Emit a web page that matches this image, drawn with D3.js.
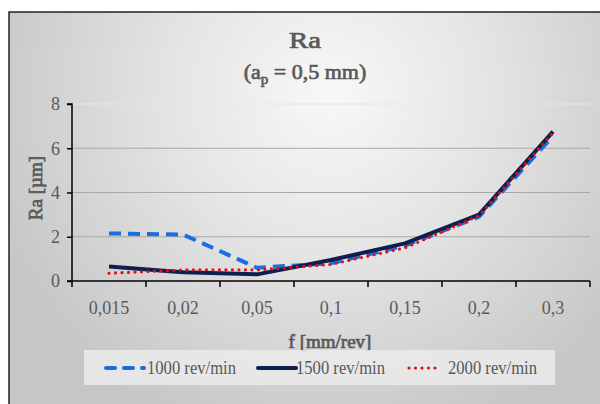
<!DOCTYPE html>
<html>
<head>
<meta charset="utf-8">
<script src="https://cdn.jsdelivr.net/npm/d3@7"></script>
<style>
  html, body { margin: 0; padding: 0; background: #fff; }
  svg { display: block; }
</style>
</head>
<body>
<svg width="600" height="404"></svg>
<script>
// Chart data.
var feeds = ["0,015", "0,02", "0,05", "0,1", "0,15", "0,2", "0,3"];
var ra1000 = [2.15, 2.1, 0.6, 0.8, 1.6, 2.9, 6.55];
var ra1500 = [0.65, 0.4, 0.3, 0.95, 1.7, 3.0, 6.75];
var ra2000 = [0.35, 0.5, 0.5, 0.75, 1.5, 2.95, 6.7];
var yTicks = [0, 2, 4, 6, 8];
var seriesNames = ["1000 rev/min", "1500 rev/min", "2000 rev/min"];

var FONT = "'Liberation Serif', 'Times New Roman', Tinos, 'DejaVu Serif', serif";
var GREY = "#595959";

var svg = d3.select("svg")
    .style("font-family", FONT);

// bold look made with a thin stroke on the regular serif face
function boldText(sel, size) {
    return sel.attr("fill", GREY)
        .attr("stroke", GREY)
        .attr("stroke-width", 0.7)
        .style("font-family", FONT)
        .style("font-size", size);
}

// Background gradient and frame.
var defs = svg.append("defs");
var grad = defs.append("radialGradient")
    .attr("id", "bg")
    .attr("gradientUnits", "userSpaceOnUse")
    .attr("cx", 330).attr("cy", 95).attr("r", 360);
grad.append("stop").attr("offset", "0%").attr("stop-color", "#f8f8f8");
grad.append("stop").attr("offset", "45%").attr("stop-color", "#e4e4e4");
grad.append("stop").attr("offset", "100%").attr("stop-color", "#c6c6c6");

svg.append("rect")
    .attr("x", 9).attr("y", 12)
    .attr("width", 600).attr("height", 400)
    .attr("fill", "url(#bg)")
    .attr("stroke", "#222")
    .attr("stroke-width", 1.5);

// Scales.
var x = d3.scaleBand().domain(feeds).range([72, 590]);
var y = d3.scaleLinear().domain([0, 8]).range([281, 104]);
var cx = function (d, i) { return x(feeds[i]) + x.bandwidth() / 2; };

// Gridlines.
svg.append("g")
    .selectAll("line")
    .data(yTicks.filter(function (d) { return d > 0; }))
    .enter().append("line")
    .attr("x1", 72).attr("x2", 590)
    .attr("y1", function (d) { return y(d); })
    .attr("y2", function (d) { return y(d); })
    .attr("stroke", function (d) { return d === 8 ? "#e6e6e6" : "#a8a8a8"; })
    .attr("stroke-width", 1);

// Axes.
var yAxis = svg.append("g")
    .attr("transform", "translate(72,0)")
    .call(d3.axisLeft(y).tickValues(yTicks).tickSize(5).tickPadding(7));
var xAxis = svg.append("g")
    .attr("transform", "translate(0,281)")
    .call(d3.axisBottom(x).tickSize(0).tickPadding(20));

[yAxis, xAxis].forEach(function (g) {
    g.attr("font-family", null).attr("font-size", null);
    g.select(".domain").attr("stroke", "#000").attr("stroke-width", 1.5);
    g.selectAll(".tick line").attr("stroke", "#000").attr("stroke-width", 1.5);
    g.selectAll("text")
        .style("font-family", FONT)
        .style("font-size", "18px")
        .attr("fill", GREY);
});
yAxis.select(".domain").attr("d", "M-5,104H0V281H-5");

// X ticks at category boundaries.
xAxis.selectAll(".bound")
    .data(feeds.concat(["end"]))
    .enter().append("line")
    .attr("x1", function (d, i) { return 72 + i * x.bandwidth(); })
    .attr("x2", function (d, i) { return 72 + i * x.bandwidth(); })
    .attr("y1", 0).attr("y2", 6)
    .attr("stroke", "#000").attr("stroke-width", 1.5);
xAxis.select(".domain").attr("d", "M72,0H590");

// Series lines.
var line = d3.line().x(cx).y(function (d) { return y(d); });

svg.append("path").datum(ra1000)
    .attr("d", line).attr("fill", "none")
    .attr("stroke", "#1a6fe0").attr("stroke-width", 4)
    .attr("stroke-dasharray", "12,7");
svg.append("path").datum(ra1500)
    .attr("d", line).attr("fill", "none")
    .attr("stroke", "#0c1f50").attr("stroke-width", 4)
    .attr("stroke-linejoin", "round");
svg.append("path").datum(ra2000)
    .attr("d", line).attr("fill", "none")
    .attr("stroke", "#e01010").attr("stroke-width", 3.2)
    .attr("stroke-linecap", "round")
    .attr("stroke-dasharray", "0,6.5");

// Titles.
boldText(svg.append("text"), "23px")
    .attr("x", 305).attr("y", 48)
    .attr("text-anchor", "middle")
    .attr("textLength", 32).attr("lengthAdjust", "spacingAndGlyphs")
    .text("Ra");
var sub = boldText(svg.append("text"), "22px")
    .attr("x", 305).attr("y", 79)
    .attr("text-anchor", "middle");
sub.append("tspan").text("(a");
sub.append("tspan").attr("dy", 5).style("font-size", "15px").text("p");
sub.append("tspan").attr("dy", -5).text(" = 0,5 mm)");

boldText(svg.append("text"), "19px")
    .attr("transform", "translate(42,188) rotate(-90)")
    .attr("text-anchor", "middle")
    .text("Ra [\u00b5m]");

boldText(svg.append("text"), "19px")
    .attr("x", 330).attr("y", 348)
    .attr("text-anchor", "middle")
    .text("f [mm/rev]");

// Legend.
var legend = svg.append("g");
legend.append("rect")
    .attr("x", 84).attr("y", 350)
    .attr("width", 471).attr("height", 35)
    .attr("fill", "#ebebeb").attr("opacity", 0.85);

var legendItems = [
    { name: seriesNames[0], x1: 106, x2: 144, tx: 147, color: "#1a6fe0", dash: "9,9", width: 4 },
    { name: seriesNames[1], x1: 258, x2: 296, tx: 296, color: "#0c1f50", dash: null, width: 4 },
    { name: seriesNames[2], x1: 409, x2: 440, tx: 448, color: "#e01010", dash: "0,6.5", width: 3.2 }
];
legendItems.forEach(function (d) {
    legend.append("line")
        .attr("x1", d.x1).attr("x2", d.x2)
        .attr("y1", 368).attr("y2", 368)
        .attr("stroke", d.color).attr("stroke-width", d.width)
        .attr("stroke-linecap", "round")
        .attr("stroke-dasharray", d.dash);
    legend.append("text")
        .attr("x", d.tx).attr("y", 374)
        .attr("fill", GREY)
        .style("font-size", "19px")
        .attr("textLength", 89).attr("lengthAdjust", "spacingAndGlyphs")
        .text(d.name);
});
</script>
</body>
</html>
